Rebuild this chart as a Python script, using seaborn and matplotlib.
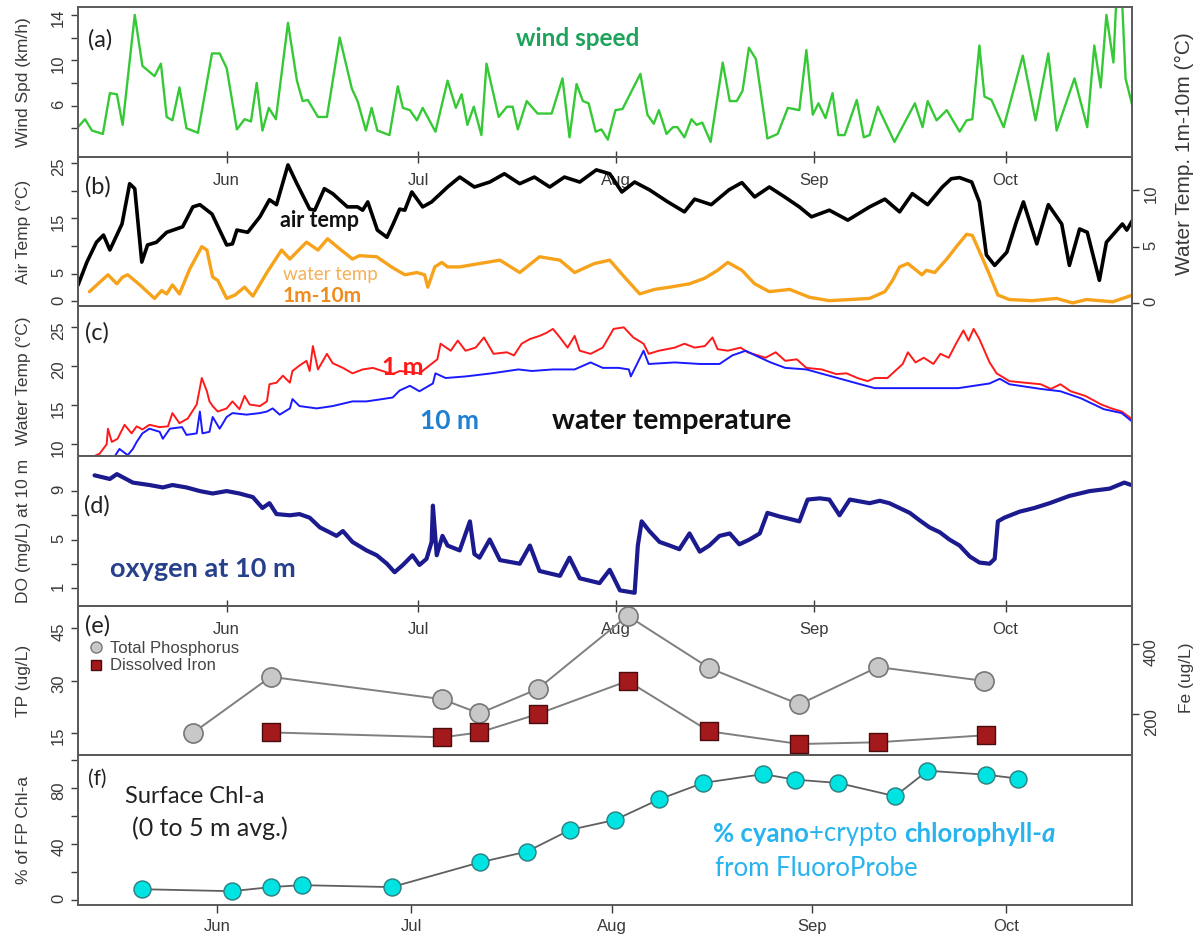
import matplotlib
matplotlib.use("Agg")
import matplotlib.pyplot as plt
from matplotlib.lines import Line2D
from matplotlib.ticker import FixedLocator, FuncFormatter
import seaborn as sns

# x values are day of year; months start at these days
MONTH_DOY = [152, 182, 213, 244, 274]
MONTH_LABELS = ["Jun", "Jul", "Aug", "Sep", "Oct"]
XLIM = (128.7, 293.8)
XLIM_F = (130.5, 293.4)

# (a) wind speed, km/h
WIND_DOY = [128.7, 129.8, 130.9, 132.6, 133.7, 134.8, 135.7, 137.6, 138.8, 140.7,
            141.7, 142.6, 143.5, 144.6, 145.7, 147.5, 149.7, 150.9, 152.0, 153.6,
            154.8, 155.8, 156.7, 157.6, 158.6, 159.7, 161.6, 163.0, 163.9, 164.7,
            166.3, 167.7, 169.7, 171.6, 172.5, 173.8, 174.7, 175.6, 177.5, 178.8,
            179.6, 180.7, 181.8, 182.7, 184.7, 186.6, 187.9, 188.8, 189.7, 190.7,
            191.9, 192.7, 194.6, 195.9, 196.8, 197.6, 199.0, 200.7, 202.9, 204.6,
            205.7, 206.8, 207.8, 208.7, 209.8, 210.7, 211.7, 212.9, 214.0, 216.8,
            217.9, 218.9, 219.7, 220.9, 221.9, 222.6, 223.7, 224.8, 225.6, 226.5,
            227.8, 229.7, 230.8, 231.9, 232.8, 233.8, 234.9, 236.7, 238.3, 239.9,
            241.7, 242.8, 243.8, 244.7, 245.8, 246.9, 247.8, 248.8, 250.7, 251.8,
            252.7, 254.0, 256.6, 259.8, 261.0, 261.8, 263.2, 264.8, 266.8, 267.9,
            268.8, 269.9, 270.7, 271.8, 273.7, 276.7, 278.7, 280.7, 282.0, 284.8,
            286.8, 287.9, 288.9, 289.8, 290.9, 291.4, 292.2, 292.8, 293.9]
WIND = [4.1, 4.8, 3.8, 3.5, 7.1, 7.0, 4.3, 14.0, 9.5, 8.6,
        9.7, 5.0, 4.7, 7.6, 4.0, 3.6, 10.6, 10.6, 9.3, 3.9,
        4.8, 4.6, 8.0, 3.8, 5.8, 4.8, 13.3, 8.2, 6.4, 6.5,
        5.0, 5.0, 12.0, 7.5, 6.4, 3.8, 5.8, 3.8, 3.4, 7.7,
        5.8, 5.6, 4.7, 5.8, 3.7, 8.2, 5.8, 7.0, 4.3, 5.9,
        3.4, 9.7, 5.0, 5.9, 5.9, 3.9, 6.4, 5.3, 5.3, 8.4,
        3.2, 7.9, 6.4, 6.2, 3.7, 3.9, 3.0, 5.6, 5.7, 8.8,
        5.2, 4.4, 5.6, 3.5, 4.1, 4.1, 3.2, 4.8, 4.3, 4.5,
        2.8, 9.8, 6.4, 6.4, 7.3, 11.1, 10.1, 3.1, 3.5, 5.8,
        5.6, 10.9, 5.2, 6.2, 4.9, 7.1, 3.4, 3.4, 6.5, 3.2,
        3.4, 5.9, 2.8, 6.2, 4.1, 6.4, 4.7, 5.6, 3.7, 4.7,
        4.8, 11.3, 6.8, 6.5, 4.1, 10.4, 4.7, 10.6, 3.8, 8.4,
        4.1, 11.3, 7.6, 14.0, 9.8, 16.0, 16.0, 8.4, 5.9]

# (b) air temperature, deg C
AIR_DOY = [128.7, 130.1, 131.6, 132.7, 133.7, 135.6, 136.8, 137.6, 138.7, 139.6,
           141.0, 142.6, 145.1, 146.7, 147.8, 149.7, 152.0, 152.9, 153.6, 155.3,
           157.2, 158.7, 159.8, 161.6, 163.0, 165.0, 165.8, 167.3, 168.6, 170.9,
           172.5, 173.3, 174.1, 175.6, 177.1, 178.0, 179.1, 179.9, 181.0, 182.7,
           184.1, 186.6, 188.5, 190.8, 193.2, 195.5, 197.9, 200.2, 202.6, 204.9,
           207.3, 209.9, 212.0, 213.9, 215.9, 218.2, 221.1, 223.7, 225.3, 227.9,
           230.7, 232.7, 234.7, 237.0, 239.4, 241.7, 243.6, 246.4, 249.3, 252.7,
           255.1, 257.4, 259.4, 261.8, 264.1, 265.5, 266.8, 268.7, 269.9, 271.0,
           272.3, 274.2, 275.7, 276.8, 278.9, 280.7, 282.8, 284.0, 285.6, 286.8,
           288.7, 289.8, 292.3, 293.0, 293.9]
AIR = [2.9, 7.1, 10.7, 12.0, 9.3, 14.0, 21.3, 20.4, 7.1, 10.2,
       10.7, 12.5, 13.5, 17.1, 17.5, 15.8, 10.2, 10.4, 12.9, 12.5,
       15.3, 18.4, 17.5, 24.7, 21.3, 16.7, 16.5, 20.4, 19.5, 17.1,
       17.1, 16.5, 18.0, 12.9, 11.6, 13.8, 16.7, 16.5, 19.8, 17.1,
       18.0, 20.7, 22.5, 20.7, 21.6, 23.1, 21.3, 22.5, 20.7, 22.5,
       21.6, 23.8, 23.1, 19.8, 21.6, 20.2, 18.0, 16.2, 18.5, 17.5,
       20.2, 21.5, 18.9, 20.7, 18.9, 17.1, 15.3, 16.5, 14.7, 17.1,
       18.5, 16.2, 19.5, 17.5, 20.7, 22.2, 22.4, 21.6, 18.0, 8.4,
       6.5, 8.9, 14.4, 18.0, 10.4, 17.5, 14.0, 6.5, 13.1, 12.5,
       3.8, 10.7, 14.0, 12.9, 14.7]

# (b) water temperature difference 1 m - 10 m, deg C
DIFF_DOY = [130.5, 133.4, 134.8, 135.7, 136.5, 138.4, 140.7, 141.8, 142.6, 143.5,
            144.6, 146.2, 148.1, 148.9, 149.8, 150.6, 152.0, 153.3, 154.8, 156.1,
            158.3, 160.6, 161.9, 164.5, 166.3, 167.8, 169.7, 171.7, 172.8, 175.5,
            177.8, 179.9, 181.8, 183.0, 183.5, 184.6, 185.7, 186.6, 188.5, 191.6,
            194.8, 197.9, 201.0, 204.2, 206.5, 209.6, 212.0, 214.3, 216.7, 219.0,
            221.4, 224.5, 226.9, 228.9, 230.5, 232.7, 234.7, 237.0, 240.2, 243.3,
            246.4, 249.6, 252.7, 255.1, 256.3, 257.4, 258.7, 260.9, 261.6, 262.9,
            264.8, 266.3, 267.9, 268.8, 270.2, 271.5, 272.8, 274.6, 278.2, 282.0,
            284.5, 286.7, 290.8, 293.9]
DIFF = [1.0, 2.5, 1.7, 2.3, 2.5, 1.6, 0.4, 1.1, 0.8, 1.6,
        0.8, 3.0, 5.0, 4.7, 2.3, 2.0, 0.4, 0.7, 1.4, 0.6,
        2.7, 4.7, 3.9, 5.4, 4.7, 5.7, 4.8, 3.9, 4.2, 4.1,
        3.2, 2.5, 2.7, 2.5, 1.4, 3.2, 3.6, 3.2, 3.2, 3.5,
        3.8, 2.7, 4.1, 3.8, 2.7, 3.5, 3.8, 2.3, 0.8, 1.2,
        1.4, 1.7, 2.2, 2.9, 3.6, 2.9, 1.7, 1.0, 1.2, 0.5,
        0.2, 0.3, 0.4, 1.0, 2.0, 3.2, 3.5, 2.5, 2.9, 2.7,
        3.9, 5.0, 6.1, 6.0, 4.2, 2.5, 0.7, 0.3, 0.2, 0.4,
        0.0, 0.3, 0.1, 0.7]

# (c) water temperature at 1 m and 10 m, deg C
T1_DOY = [131.3, 132.1, 133.2, 133.4, 134.0, 134.9, 136.0, 137.1, 137.9, 138.8,
          139.9, 141.5, 142.8, 143.5, 144.6, 145.9, 147.3, 148.1, 148.9, 149.3,
          149.8, 150.6, 152.0, 152.9, 154.0, 154.8, 155.6, 157.2, 158.3, 158.7,
          159.8, 160.8, 161.9, 162.3, 163.4, 164.5, 165.0, 165.5, 166.3, 167.7,
          168.6, 170.2, 171.7, 173.3, 174.9, 176.4, 178.0, 179.1, 182.2, 185.0,
          185.5, 187.1, 188.2, 189.4, 191.0, 192.3, 193.8, 195.9, 197.0, 198.2,
          199.5, 201.0, 202.1, 203.1, 204.2, 205.4, 206.5, 207.3, 209.0, 210.9,
          212.6, 214.2, 215.7, 217.3, 218.1, 219.7, 222.2, 223.7, 225.3, 226.9,
          228.1, 228.9, 230.5, 232.5, 233.6, 236.4, 238.0, 239.5, 241.3, 242.8,
          245.2, 247.5, 249.1, 250.8, 252.4, 253.5, 255.5, 257.9, 258.7, 259.9,
          261.2, 262.7, 263.8, 265.1, 266.3, 267.4, 268.2, 269.0, 269.9, 271.5,
          272.6, 274.6, 277.0, 279.5, 281.1, 282.6, 284.2, 286.5, 289.0, 290.6,
          292.2, 293.7]
T1 = [8.5, 8.8, 10.0, 12.0, 10.3, 10.7, 12.5, 11.4, 12.3, 11.9,
      12.5, 12.2, 12.3, 14.0, 12.7, 13.3, 15.1, 18.5, 16.8, 15.5,
      14.9, 14.2, 14.6, 15.5, 14.5, 16.2, 15.1, 14.9, 15.5, 17.7,
      17.9, 18.8, 17.9, 19.4, 20.1, 20.7, 19.4, 22.6, 19.6, 21.6,
      20.4, 19.8, 19.1, 19.6, 19.8, 19.4, 19.0, 19.4, 19.1, 20.9,
      22.9, 22.0, 23.3, 22.0, 22.4, 23.7, 21.6, 21.8, 21.4, 22.9,
      23.5, 23.9, 24.3, 24.8, 23.7, 22.4, 23.9, 22.0, 21.6, 22.4,
      24.8, 25.0, 23.7, 22.9, 21.6, 22.0, 22.4, 22.9, 22.4, 22.6,
      23.7, 22.2, 22.0, 22.4, 21.8, 21.1, 21.8, 20.7, 20.9, 19.8,
      19.6, 19.0, 19.1, 18.5, 18.1, 18.5, 18.5, 20.3, 21.8, 20.5,
      21.1, 20.3, 21.6, 21.1, 23.0, 24.6, 23.3, 24.8, 23.5, 20.5,
      19.1, 18.1, 17.9, 17.7, 17.1, 17.7, 16.8, 16.2, 15.1, 14.6,
      14.2, 13.3]
T10_DOY = [134.5, 135.2, 136.5, 137.3, 137.9, 138.8, 139.9, 141.5, 142.0, 143.1,
           145.0, 145.7, 147.3, 147.8, 148.2, 149.3, 149.8, 150.9, 152.0, 152.9,
           155.1, 157.2, 158.3, 159.2, 160.3, 161.9, 162.3, 163.4, 166.1, 168.6,
           171.7, 173.9, 176.4, 178.0, 179.1, 180.7, 182.2, 184.3, 184.7, 186.3,
           189.4, 193.5, 197.7, 199.8, 203.1, 206.5, 209.0, 210.9, 213.4, 215.0,
           215.3, 217.3, 218.1, 222.2, 226.1, 229.2, 231.2, 233.3, 234.8, 237.2,
           239.5, 242.8, 246.8, 250.8, 253.5, 258.7, 266.6, 271.5, 273.1, 274.6,
           279.5, 282.6, 285.8, 289.4, 292.2, 293.7]
T10 = [8.5, 9.4, 8.6, 9.4, 10.3, 11.4, 12.0, 11.6, 10.7, 12.0,
       12.2, 11.2, 11.4, 14.2, 11.4, 11.6, 13.5, 12.0, 13.5, 14.0,
       13.8, 14.0, 14.2, 14.6, 13.8, 14.6, 15.8, 14.9, 14.6, 14.9,
       15.5, 15.5, 15.8, 16.0, 16.9, 17.5, 16.8, 17.8, 19.1, 18.5,
       18.7, 19.1, 19.6, 19.4, 19.6, 19.6, 20.5, 19.8, 19.8, 19.6,
       18.7, 22.0, 20.3, 20.5, 20.3, 20.3, 21.4, 22.0, 21.4, 20.5,
       19.8, 19.6, 18.7, 17.8, 17.2, 17.2, 17.2, 17.8, 18.4, 17.7,
       17.1, 16.8, 15.9, 14.5, 14.0, 13.0]

# (d) dissolved oxygen at 10 m, mg/L
DO_DOY = [131.3, 133.7, 134.8, 137.3, 139.9, 142.0, 143.5, 145.7, 147.8, 149.8,
          152.0, 154.0, 156.1, 157.6, 158.7, 159.8, 161.9, 163.4, 165.0, 166.6,
          168.1, 169.2, 170.2, 171.7, 173.9, 175.5, 177.1, 178.3, 179.6, 181.1,
          182.2, 183.3, 184.1, 184.3, 184.9, 185.8, 186.6, 188.5, 190.1, 190.8,
          191.6, 193.2, 194.8, 197.9, 199.5, 201.0, 204.2, 205.7, 207.3, 210.4,
          212.0, 213.6, 215.9, 216.4, 217.0, 218.2, 219.8, 221.4, 222.9, 224.5,
          226.1, 227.6, 229.2, 230.8, 232.3, 233.9, 235.5, 236.7, 238.6, 240.2,
          241.7, 243.0, 244.9, 246.4, 248.0, 249.6, 252.7, 254.3, 255.8, 257.4,
          259.0, 260.5, 262.1, 263.7, 265.2, 266.8, 268.4, 269.9, 271.5, 272.3,
          272.8, 273.8, 276.2, 278.5, 280.9, 284.0, 287.2, 290.3, 292.6, 293.7]
DO = [10.3, 10.0, 10.4, 9.7, 9.5, 9.3, 9.5, 9.3, 9.0, 8.8,
      9.0, 8.8, 8.5, 7.6, 8.0, 7.1, 7.0, 7.1, 6.8, 6.0,
      5.6, 5.3, 5.7, 4.8, 4.1, 3.7, 3.0, 2.3, 2.9, 3.7,
      2.9, 3.4, 4.8, 7.8, 3.7, 5.3, 4.5, 4.1, 6.5, 3.8,
      3.5, 5.0, 3.3, 3.0, 4.5, 2.4, 2.0, 3.5, 1.8, 1.4,
      2.5, 0.8, 0.6, 4.5, 6.5, 5.7, 4.8, 4.5, 4.2, 5.5,
      4.0, 4.5, 5.3, 5.5, 4.6, 5.0, 5.5, 7.2, 6.9, 6.7,
      6.5, 8.3, 8.4, 8.3, 7.0, 8.3, 8.0, 8.2, 8.0, 7.6,
      7.2, 6.6, 6.0, 5.6, 5.0, 4.5, 3.6, 3.1, 3.0, 3.4,
      6.5, 6.8, 7.3, 7.6, 8.0, 8.6, 9.0, 9.2, 9.7, 9.5]

# (e) total phosphorus (ug/L) and dissolved iron (ug/L)
TP_DOY = [146.7, 158.9, 185.7, 191.6, 200.7, 214.8, 227.6, 241.7, 254.0, 270.7]
TP = [15.0, 31.1, 24.7, 20.6, 27.6, 48.6, 33.6, 23.2, 33.9, 29.9]
FE_DOY = [158.9, 185.8, 191.6, 200.7, 214.8, 227.6, 241.7, 254.0, 270.9]
FE = [149, 135, 149, 201, 295, 152, 116, 121, 141]

# (f) % cyano + crypto of FluoroProbe chl-a
CHL_DOY = [140.4, 154.3, 160.3, 165.1, 179.0, 192.6, 199.9, 206.6, 213.5,
           220.3, 227.1, 236.4, 241.3, 248.0, 256.8, 261.8, 270.9, 275.8]
CHL = [7.7, 6.3, 9.2, 10.6, 9.2, 26.8, 34.5, 50.0, 57.0,
       71.6, 83.3, 89.6, 85.7, 83.3, 73.9, 92.0, 89.2, 86.4]

sns.set_style("ticks")
plt.rcParams["font.family"] = ["Liberation Sans", "DejaVu Sans"]
NOTE_FONT = ["Lato", "DejaVu Sans"]
FRAME = "#5a5a5a"
TICK_C = "#3a3a3a"
CYAN_TXT = "#27b4ee"


def line(ax, x, y, **kw):
    sns.lineplot(x=x, y=y, ax=ax, estimator=None, sort=False, legend=False, **kw)


def frame(ax, ylim, ticks, shown, xlim=XLIM):
    ax.set_xlim(xlim)
    ax.set_ylim(ylim)
    ax.yaxis.set_major_locator(FixedLocator(ticks))
    ax.yaxis.set_major_formatter(
        FuncFormatter(lambda v, p: f"{v:g}" if v in shown else ""))
    ax.tick_params(axis="y", labelrotation=90, labelsize=12, colors=TICK_C,
                   length=5, width=1)
    ax.tick_params(axis="x", bottom=False, labelbottom=False)
    for s in ax.spines.values():
        s.set_visible(True)
        s.set_color(FRAME)
        s.set_linewidth(1.4)


def month_top(ax):
    ax.set_xticks(MONTH_DOY)
    ax.set_xticklabels(MONTH_LABELS)
    ax.tick_params(axis="x", bottom=False, labelbottom=False, top=True,
                   labeltop=True, direction="inout", length=9, width=1,
                   pad=-27, labelsize=12, colors=TICK_C)


def ylab(ax, text, x=-0.045, y=0.5, size=12.5):
    ax.set_ylabel(text, fontsize=size, color=TICK_C)
    ax.yaxis.set_label_coords(x, y)


def note(ax, x, y, text, **kw):
    kw.setdefault("family", NOTE_FONT)
    kw.setdefault("va", "center")
    kw.setdefault("ha", "left")
    return ax.text(x, y, text, transform=ax.transAxes, **kw)


fig = plt.figure(figsize=(12.01, 9.41), dpi=100)
axes = fig.subplots(6, 1)
fig.subplots_adjust(left=0.0649, right=0.9425, top=0.9926, bottom=0.0383, hspace=0)
ax_a, ax_b, ax_c, ax_d, ax_e, ax_f = axes

# (a) wind
line(ax_a, WIND_DOY, WIND, color="#36c936", lw=1.7)
frame(ax_a, (1.5, 14.7), [4, 6, 8, 10, 12, 14], [6, 10, 14])
ylab(ax_a, "Wind Spd (km/h)")
note(ax_a, 0.0095, 0.78, "(a)", fontsize=17, color="#222222")
note(ax_a, 0.474, 0.79, "wind speed", ha="center", fontsize=17.5,
     weight="bold", color="#1fa35c")

# (b) air temp and 1m-10m water temp difference
line(ax_b, AIR_DOY, AIR, color="black", lw=2.6)
frame(ax_b, (-0.9, 26.2), [0, 5, 10, 15, 20, 25], [0, 5, 15, 25])
month_top(ax_b)
ylab(ax_b, "Air Temp (°C)")
ax_b2 = ax_b.twinx()
line(ax_b2, DIFF_DOY, DIFF, color="#f7a21b", lw=2.4)
frame(ax_b2, (-0.3, 13.0), [0, 5, 10], [0, 5, 10])
ax_b2.tick_params(axis="x", top=False, labeltop=False)
ylab(ax_b2, "Water Temp. 1m-10m (°C)", x=1.041, y=1.02, size=15)
note(ax_b, 0.0066, 0.80, "(b)", fontsize=17, color="#222222")
note(ax_b, 0.1917, 0.57, "air temp", fontsize=15.5, weight="bold", color="#111111")
note(ax_b, 0.1945, 0.215, "water temp", fontsize=13.5, color="#f5b05a")
note(ax_b, 0.1945, 0.067, "1m-10m", fontsize=15, weight="bold", color="#f08c1e")

# (c) water temperature
line(ax_c, T1_DOY, T1, color="#ff1a1a", lw=1.4)
line(ax_c, T10_DOY, T10, color="#1a1aff", lw=1.4)
frame(ax_c, (8.5, 27.7), [10, 15, 20, 25], [10, 15, 20, 25])
ylab(ax_c, "Water Temp (°C)")
note(ax_c, 0.0066, 0.824, "(c)", fontsize=17, color="#222222")
note(ax_c, 0.2884, 0.588, "1 m", fontsize=18, weight="bold", color="#ff1a1a")
note(ax_c, 0.3245, 0.236, "10 m", fontsize=19, weight="bold", color="#1f7fd1")
note(ax_c, 0.4497, 0.236, "water temperature", fontsize=20.5, weight="bold",
     color="#111111")

# (d) oxygen
line(ax_d, DO_DOY, DO, color="#1b1b8f", lw=3.0)
frame(ax_d, (-0.46, 11.9), [1, 3, 5, 7, 9], [1, 5, 9])
ylab(ax_d, "DO (mg/L) at 10 m")
note(ax_d, 0.0057, 0.667, "(d)", fontsize=17, color="#222222")
note(ax_d, 0.0304, 0.247, "oxygen at 10 m", fontsize=19.5, weight="bold",
     color="#27408b")

# (e) TP and Fe
line(ax_e, TP_DOY, TP, color="#7f7f7f", lw=1.4)
sns.scatterplot(x=TP_DOY, y=TP, ax=ax_e, marker="o", s=190, color="#c8c8c8",
                edgecolor="#777777", linewidth=1.2, zorder=3, legend=False)
frame(ax_e, (8.6, 51.5), [15, 30, 45], [15, 30, 45])
month_top(ax_e)
ylab(ax_e, "TP (ug/L)")
ax_e2 = ax_e.twinx()
line(ax_e2, FE_DOY, FE, color="#7f7f7f", lw=1.4)
sns.scatterplot(x=FE_DOY, y=FE, ax=ax_e2, marker="s", s=180, color="#a3191c",
                edgecolor="#4a0d0d", linewidth=1.0, zorder=3, legend=False)
frame(ax_e2, (84, 509), [200, 400], [200, 400])
ax_e2.tick_params(axis="x", top=False, labeltop=False)
ylab(ax_e2, "Fe (ug/L)", x=1.045, y=0.52, size=12.5)
note(ax_e, 0.0066, 0.866, "(e)", fontsize=17, color="#222222")
handles = [Line2D([], [], ls="none", marker="o", ms=8, mfc="#c8c8c8", mec="#777777"),
           Line2D([], [], ls="none", marker="s", ms=7, mfc="#a3191c", mec="#4a0d0d")]
ax_e2.legend(handles, ["Total Phosphorus", "Dissolved Iron"], loc="upper left",
             bbox_to_anchor=(0.008, 0.775), frameon=False, fontsize=12,
             handletextpad=0.3, borderaxespad=0, borderpad=0.1,
             labelspacing=0.15, handlelength=1.0, labelcolor="#444444")

# (f) FluoroProbe
line(ax_f, CHL_DOY, CHL, color="#5f5f5f", lw=1.3)
sns.scatterplot(x=CHL_DOY, y=CHL, ax=ax_f, marker="o", s=150, color="#00e3e3",
                edgecolor="#2b7f7f", linewidth=1.0, zorder=3, legend=False)
frame(ax_f, (-3.5, 103), [0, 20, 40, 60, 80, 100], [0, 40, 80], xlim=XLIM_F)
ax_f.set_xticks(MONTH_DOY)
ax_f.set_xticklabels(MONTH_LABELS)
ax_f.tick_params(axis="x", bottom=True, labelbottom=True, direction="out",
                 length=6, width=1, labelsize=12, colors=TICK_C, pad=4)
ylab(ax_f, "% of FP Chl-a")
note(ax_f, 0.0095, 0.84, "(f)", fontsize=15, color="#222222")
note(ax_f, 0.0446, 0.728, "Surface Chl-a", fontsize=17, color="#222222")
note(ax_f, 0.0512, 0.51, "(0 to 5 m avg.)", fontsize=18, color="#222222")
t = note(ax_f, 0.6025, 0.477, "% cyano", fontsize=18.5, weight="bold", color=CYAN_TXT)
for piece, wt, st in [("+crypto ", "normal", "normal"),
                      ("chlorophyll-", "bold", "normal"),
                      ("a", "bold", "italic")]:
    t = ax_f.annotate(piece, xy=(1, 0.5), xycoords=t, va="center", ha="left",
                      fontsize=18.5, weight=wt, style=st, color=CYAN_TXT,
                      family=NOTE_FONT)
note(ax_f, 0.604, 0.245, "from FluoroProbe", fontsize=18.5, color=CYAN_TXT)

fig.savefig("out.png", dpi=100, facecolor="white")
